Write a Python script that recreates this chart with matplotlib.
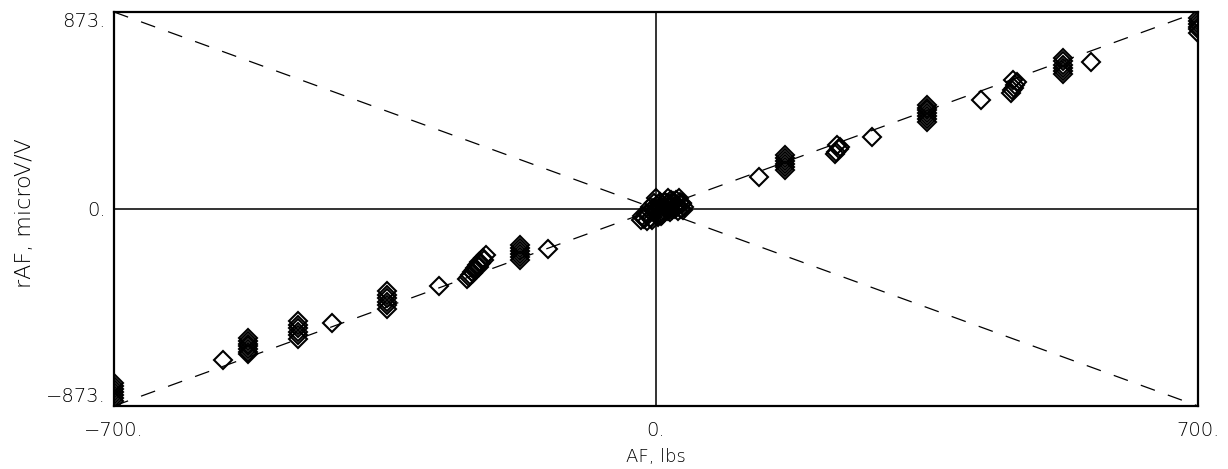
import matplotlib
matplotlib.use("Agg")
import matplotlib.pyplot as plt
import numpy as np

# axis limits / ticks
x_lim = [-700, 700]
y_lim = [-873, 873]
x_ticks = [-700, 0, 700]
y_ticks = [-873, 0, 873]
x_tick_labels = ["\u2212700.", "0.", "700."]
y_tick_labels = ["\u2212873.", "0.", "873."]
x_label = "AF, lbs"
y_label = "rAF, microV/V"

# measured data (AF lbs, rAF microV/V)
af = [
    # edge cluster at -700
    -700, -700, -700, -700, -700, -700, -700,
    # single
    -559,
    # stack
    -527, -527, -527, -527, -527, -527, -527,
    # stack
    -462, -462, -462, -462, -462, -462,
    -418,
    # stack
    -347, -347, -347, -347, -347, -347,
    -280,
    # tilted cluster
    -220, -224, -228, -231, -234, -238, -241, -236, -229,
    -222, -226, -232, -240, -244, -235, -227,
    # stack
    -176, -176, -176, -176, -176, -176,
    -139,
    # centre cluster
    -20, -12, -5, -18, -10, -2, 0, 0, 5, 10, 15, 20, 25, 30, 33, 36,
    35, 8, -8, 15, 22, -15, 3, 12, 28, 18, -3, 26, 32, 6,
    -16, -7, 2, 9, 17, 24, 31, -13, -4, 4, 11, 19, 27, 34, 7, 14,
    21, -1, 29, 16,
    # positive side
    133,
    167, 167, 167, 167, 167, 167,
    231, 233, 236, 238, 234,
    279,
    350, 350, 350, 350, 350, 350, 350,
    420,
    458, 460, 462, 464, 466, 461,
    526, 526, 526, 526, 526, 526,
    562,
    700, 700, 700, 700, 700, 700,
]
raf = [
    -770, -785, -798, -812, -825, -838, -850,
    -669,
    -572, -584, -597, -609, -620, -632, -643,
    -496, -512, -528, -544, -560, -576,
    -505,
    -363, -379, -395, -411, -427, -443,
    -341,
    -204, -218, -233, -248, -262, -278, -300, -285, -255,
    -225, -240, -268, -292, -310, -270, -245,
    -158, -172, -186, -200, -213, -226,
    -177,
    -50, -55, -50, -30, -20, -10, 0, 50, 30, 10, 48, 20, 0, 48, 25, 10,
    -5, -25, 10, -10, 35, -40, -35, 30, 15, -15, 25, 40, 0, 5,
    -45, -40, -25, -5, 5, 15, 30, -20, 5, 20, 30, 38, 12, 20, -30, 0,
    -5, -15, -8, 25,
    142,
    173, 186, 199, 212, 225, 239,
    244, 254, 264, 274, 284,
    319,
    385, 398, 411, 424, 437, 449, 461,
    483,
    514, 526, 538, 550, 562, 571,
    598, 612, 626, 640, 655, 669,
    651,
    782, 796, 808, 820, 834, 846,
]

plt.rcParams["font.family"] = ["DejaVu Sans"]

W, H = 1228, 469
fig = plt.figure(figsize=(W / 100, H / 100), dpi=100)
ax = fig.add_axes([114 / W, 1 - 406 / H, (1198 - 114) / W, (406 - 12) / H])

# reference lines
ax.axhline(0, color="#333333", lw=1.4, zorder=1)
ax.axvline(0, color="#333333", lw=1.4, zorder=1)
ax.plot(x_lim, y_lim, color="black", lw=0.9, dashes=(12, 11), zorder=1)
ax.plot(x_lim, y_lim[::-1], color="black", lw=0.9, dashes=(12, 11), zorder=1)

ax.plot(af, raf, linestyle="none", marker="D", markersize=9.5,
        markerfacecolor="none", markeredgecolor="black", markeredgewidth=1.5,
        zorder=3)

ax.set_xlim(x_lim)
ax.set_ylim(y_lim)
ax.set_xticks(x_ticks)
ax.set_xticklabels(x_tick_labels)
ax.set_yticks(y_ticks)
ax.set_yticklabels(y_tick_labels)
ax.tick_params(length=0, labelsize=14, colors="black")
ax.tick_params(axis="x", pad=11)
ax.tick_params(axis="y", pad=6)
for t in ax.get_xticklabels() + ax.get_yticklabels():
    t.set_fontweight("light")
ylabs = ax.get_yticklabels()
ylabs[0].set_verticalalignment("bottom")
ylabs[-1].set_verticalalignment("top")
for s in ax.spines.values():
    s.set_linewidth(1.6)
    s.set_color("black")

ax.set_xlabel(x_label, fontsize=13, color="black", fontweight="light")
ax.set_ylabel(y_label, fontsize=16, color="black", fontweight="light")
ax.xaxis.set_label_coords(0.5, (406 - 457) / 394)
ax.xaxis.label.set_verticalalignment("center")
ax.yaxis.set_label_coords((25 - 114) / 1084, 0.49)
ax.yaxis.label.set_verticalalignment("center")

fig.savefig("out.png", dpi=100)
